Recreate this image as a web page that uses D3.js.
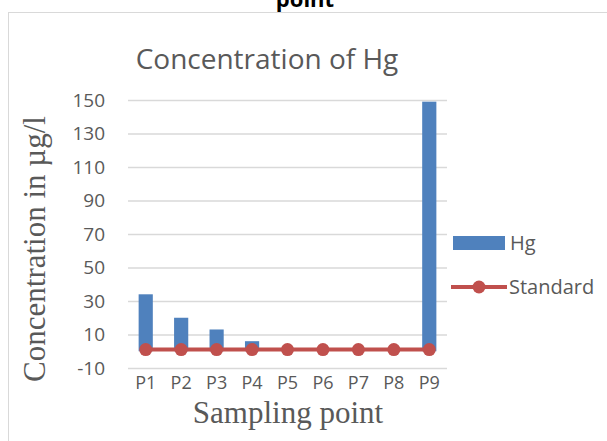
<!DOCTYPE html>
<html>
<head>
<meta charset="utf-8">
<script src="https://cdn.jsdelivr.net/npm/d3@7"></script>
<style>
  body { margin: 0; background: #fff; }
  svg { display: block; }
</style>
</head>
<body>
<div id="graph"></div>
<script>
const categories = ["P1", "P2", "P3", "P4", "P5", "P6", "P7", "P8", "P9"];
const hgValues = [34, 20, 13, 6, 0, 0, 0, 0, 149];
const standardValues = [1, 1, 1, 1, 1, 1, 1, 1, 1];
const yTicks = [-10, 10, 30, 50, 70, 90, 110, 130, 150];

const width = 607;
const height = 441;
const plot = { left: 128, right: 447, top: 100, bottom: 368 };

const blue = "#4F81BD";
const red = "#C0504D";
const textGray = "#595959";
const gridGray = "#D9D9D9";

let svg = d3.select('#graph')
  .append('svg')
  .attr('width', width)
  .attr('height', height);

// caption cut off at the top
svg.append('text')
  .attr('x', 305)
  .attr('y', 7)
  .attr('text-anchor', 'middle')
  .attr('font-family', 'Open Sans, sans-serif')
  .attr('font-weight', 'bold')
  .attr('font-size', 22)
  .attr('fill', '#000')
  .text('point');

// chart border
svg.append('rect')
  .attr('x', 8.5)
  .attr('y', 12.5)
  .attr('width', 620)
  .attr('height', 450)
  .attr('fill', 'none')
  .attr('stroke', gridGray)
  .attr('stroke-width', 1);

// title
svg.append('text')
  .attr('x', 267)
  .attr('y', 69)
  .attr('text-anchor', 'middle')
  .attr('font-family', 'Open Sans, sans-serif')
  .attr('font-size', 28)
  .attr('fill', textGray)
  .text('Concentration of Hg');

let xScale = d3.scaleBand()
  .domain(categories)
  .range([plot.left, plot.right])
  .paddingInner(0.6)
  .paddingOuter(0.3);

let xPoint = d => xScale(d) + xScale.bandwidth() / 2;

let yScale = d3.scaleLinear()
  .domain([-10, 150])
  .range([plot.bottom, plot.top]);

// grid
let yGrid = d3.axisLeft(yScale)
  .tickValues(yTicks)
  .tickSize(-(plot.right - plot.left))
  .tickFormat('');
svg.append('g')
  .attr('transform', `translate(${plot.left}, 0)`)
  .call(yGrid)
  .call(g => g.select('.domain').remove())
  .selectAll('line')
  .attr('stroke', gridGray)
  .attr('stroke-width', 1.3);

// y axis labels
let yAxis = d3.axisLeft(yScale)
  .tickValues(yTicks)
  .tickSize(0)
  .tickPadding(23)
  .tickFormat(d => String(d));
svg.append('g')
  .attr('transform', `translate(${plot.left}, 0)`)
  .call(yAxis)
  .call(g => g.select('.domain').remove())
  .selectAll('text')
  .attr('font-family', 'Open Sans, sans-serif')
  .attr('font-size', 19)
  .attr('fill', textGray);

// x axis labels
let xAxis = d3.axisBottom(xScale)
  .tickSize(0)
  .tickPadding(8);
svg.append('g')
  .attr('transform', `translate(0, ${plot.bottom})`)
  .call(xAxis)
  .call(g => g.select('.domain').remove())
  .selectAll('text')
  .attr('font-family', 'Open Sans, sans-serif')
  .attr('font-size', 18)
  .attr('fill', textGray);

// axis titles
svg.append('text')
  .attr('transform', `translate(45, 249) rotate(-90)`)
  .attr('text-anchor', 'middle')
  .attr('font-family', 'Liberation Serif, serif')
  .attr('font-size', 31)
  .attr('fill', textGray)
  .text('Concentration in µg/l');

svg.append('text')
  .attr('x', 288)
  .attr('y', 423)
  .attr('text-anchor', 'middle')
  .attr('font-family', 'Liberation Serif, serif')
  .attr('font-size', 31)
  .attr('fill', textGray)
  .text('Sampling point');

// bars
let data = categories.map((c, i) => ({ cat: c, hg: hgValues[i], std: standardValues[i] }));
svg.append('g').selectAll('rect')
  .data(data)
  .enter()
  .append('rect')
  .attr('x', d => xScale(d.cat))
  .attr('y', d => yScale(Math.max(d.hg, 0)))
  .attr('width', xScale.bandwidth())
  .attr('height', d => Math.abs(yScale(0) - yScale(d.hg)))
  .attr('fill', blue);

// standard line
svg.append('path')
  .datum(data)
  .attr('fill', 'none')
  .attr('stroke', red)
  .attr('stroke-width', 4)
  .attr('d', d3.line()
    .x(d => xPoint(d.cat))
    .y(d => yScale(d.std)));

svg.append('g').selectAll('circle')
  .data(data)
  .enter()
  .append('circle')
  .attr('cx', d => xPoint(d.cat))
  .attr('cy', d => yScale(d.std))
  .attr('r', 6.5)
  .attr('fill', red);

// legend
let legend = svg.append('g');
legend.append('rect')
  .attr('x', 453)
  .attr('y', 236)
  .attr('width', 52)
  .attr('height', 14)
  .attr('fill', blue);
legend.append('text')
  .attr('x', 510)
  .attr('y', 250)
  .attr('font-family', 'Open Sans, sans-serif')
  .attr('font-size', 20)
  .attr('fill', textGray)
  .text('Hg');
legend.append('line')
  .attr('x1', 451)
  .attr('x2', 507)
  .attr('y1', 287)
  .attr('y2', 287)
  .attr('stroke', red)
  .attr('stroke-width', 4);
legend.append('circle')
  .attr('cx', 479)
  .attr('cy', 287)
  .attr('r', 6.5)
  .attr('fill', red);
legend.append('text')
  .attr('x', 509)
  .attr('y', 294)
  .attr('font-family', 'Open Sans, sans-serif')
  .attr('font-size', 20)
  .attr('fill', textGray)
  .text('Standard');
</script>
</body>
</html>
